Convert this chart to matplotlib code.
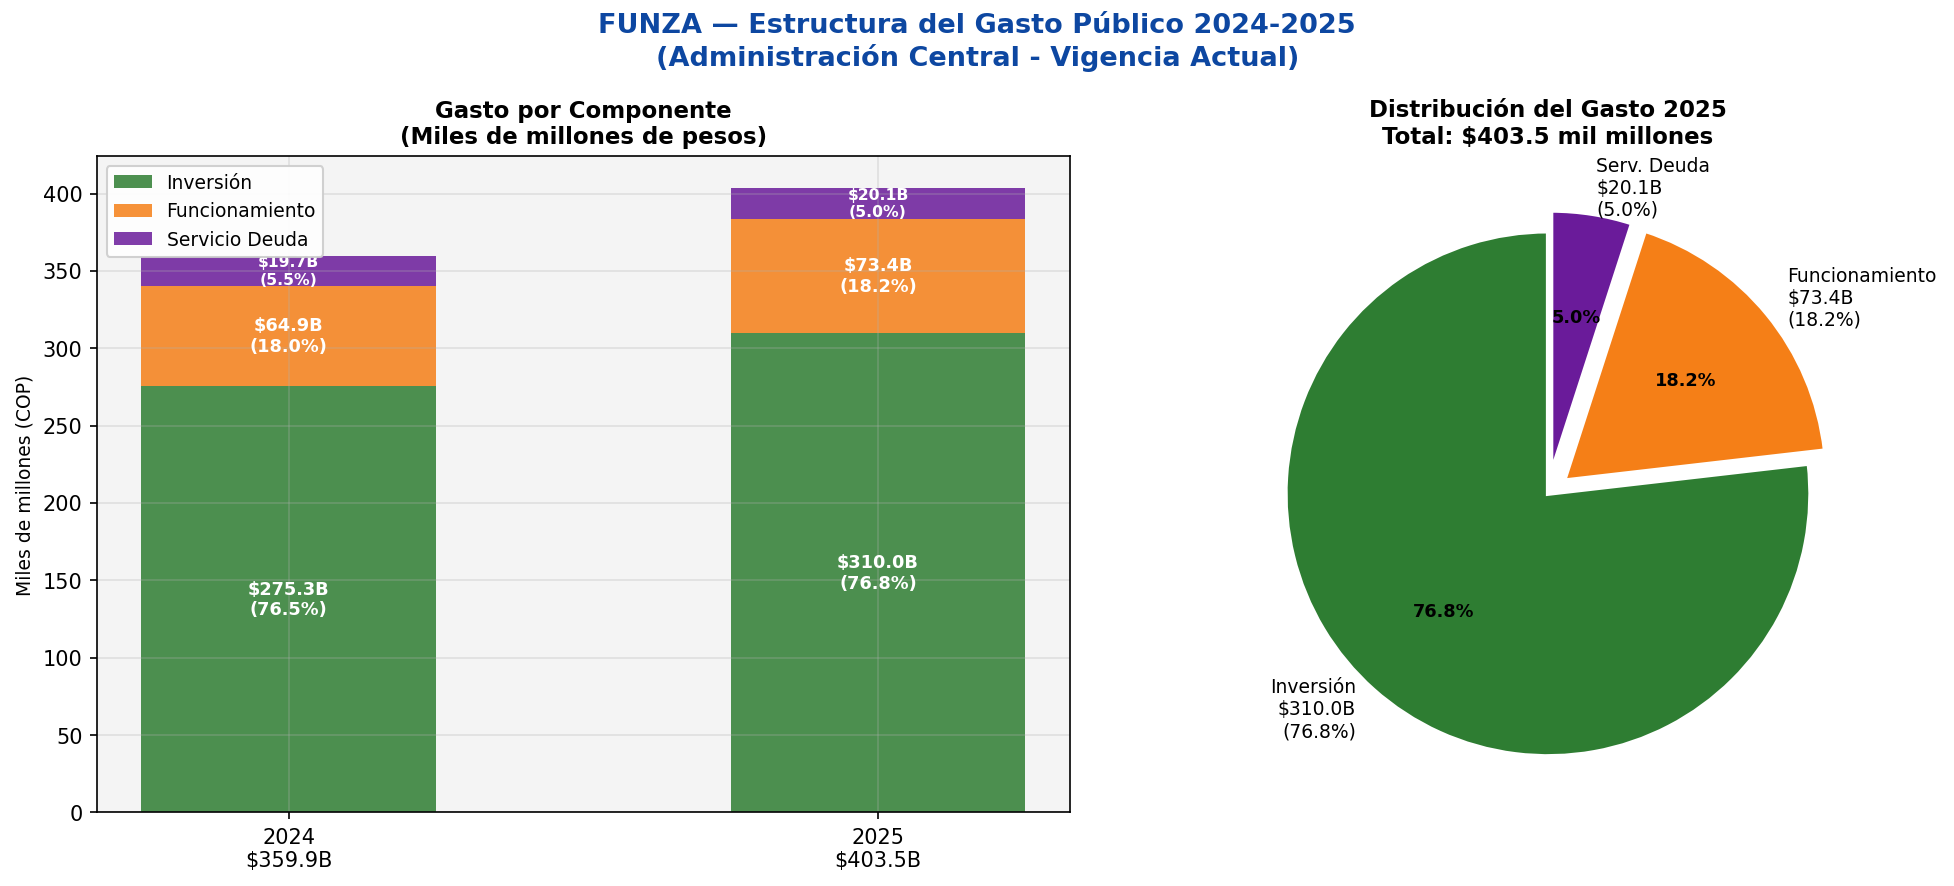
import numpy as np
import matplotlib
matplotlib.use("Agg")
from matplotlib import pyplot as plt

# datos (miles de millones COP)
years = ["2024", "2025"]
inversion = [275.3, 310.0]
funcionamiento = [64.9, 73.4]
deuda = [19.7, 20.1]

comp_names = ["Inversión", "Funcionamiento", "Servicio Deuda"]
pie_names = ["Inversión", "Funcionamiento", "Serv. Deuda"]
colors = ["#2E7D32", "#F57F17", "#6A1B9A"]

fig = plt.figure(figsize=(13.03, 5.91), dpi=150)
fig.suptitle("FUNZA — Estructura del Gasto Público 2024-2025\n(Administración Central - Vigencia Actual)",
             fontsize=13, fontweight="bold", color="#0D47A1", y=0.985)

# --- barras apiladas ---
ax1 = fig.add_axes([0.0497, 0.083, 0.4975, 0.74])
x = np.arange(len(years))
totals = np.array(inversion) + np.array(funcionamiento) + np.array(deuda)
bottom = np.zeros(len(years))
for name, vals, c in zip(comp_names, [inversion, funcionamiento, deuda], colors):
    vals = np.array(vals)
    ax1.bar(x, vals, 0.5, bottom=bottom, color=c, alpha=0.85, label=name)
    for i in range(len(years)):
        pct = vals[i] / totals[i] * 100
        fs = 7.5 if vals[i] < 30 else 8.5
        ax1.text(x[i], bottom[i] + vals[i] / 2, f"${vals[i]:.1f}B\n({pct:.1f}%)",
                 ha="center", va="center", color="white", fontweight="bold", fontsize=fs)
    bottom += vals

ax1.set_xticks(x)
ax1.set_xticklabels([f"{y}\n${t:.1f}B" for y, t in zip(years, totals)], fontsize=10)
ax1.set_ylim(0, 424)
ax1.set_ylabel("Miles de millones (COP)", fontsize=9)
ax1.set_title("Gasto por Componente\n(Miles de millones de pesos)", fontsize=11, fontweight="bold")
ax1.set_facecolor("#f4f4f4")
ax1.grid(True, alpha=0.3)
ax1.legend(loc="upper left", fontsize=9, framealpha=0.9)

# --- pie 2025 ---
ax2 = fig.add_axes([0.624, 0.0724, 0.336, 0.74])
vals25 = [inversion[1], funcionamiento[1], deuda[1]]
tot25 = sum(vals25)
labels = [f"{n}\n${v:.1f}B\n({v / tot25 * 100:.1f}%)" for n, v in zip(pie_names, vals25)]
wedges, texts, autotexts = ax2.pie(vals25, labels=labels, colors=colors, startangle=90,
                                   explode=(0, 0.08, 0.08), autopct="%1.1f%%",
                                   wedgeprops=dict(edgecolor="white", linewidth=2),
                                   textprops=dict(fontsize=9))
for t in autotexts:
    t.set_fontweight("bold")
    t.set_fontsize(8.5)
ax2.set_xlim(-1.25, 1.25)
ax2.set_ylim(-1.25, 1.25)
ax2.set_aspect("equal")
ax2.set_title(f"Distribución del Gasto 2025\nTotal: ${tot25:.1f} mil millones",
              fontsize=11, fontweight="bold", y=1.015)

plt.savefig("out.png", dpi=150)
